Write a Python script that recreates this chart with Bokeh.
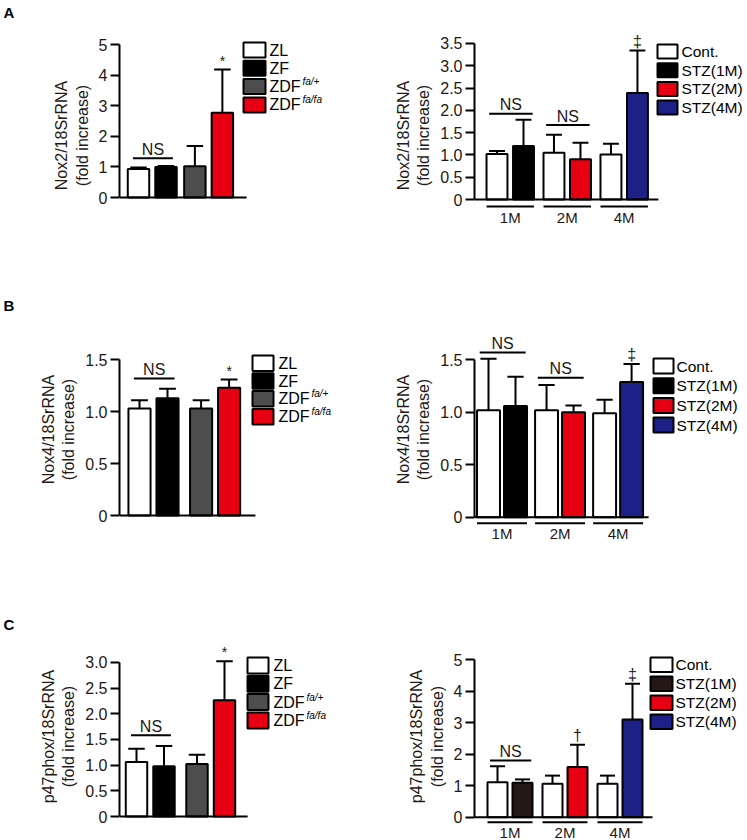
from bokeh.plotting import figure
from bokeh.models import Range1d, Title, FixedTicker
from bokeh.layouts import column, row
from bokeh.embed import file_html
from bokeh.resources import INLINE
from bokeh.core.properties import value

FONT = "Liberation Sans"

# ---------------- data ----------------
zucker_names = ["ZL", "ZF", "ZDF", "ZDF"]
zucker_sups = ["", "", "fa/+", "fa/fa"]
zucker_colors = ["#ffffff", "#000000", "#4d4d4d", "#e60012"]

stz_names = ["Cont.", "STZ(1M)", "STZ(2M)", "STZ(4M)"]
stz_months = ["1M", "2M", "4M"]
stz_colors_ab = ["#ffffff", "#000000", "#e60012", "#1d2087"]
stz_colors_c = ["#ffffff", "#231815", "#e60012", "#1d2087"]

# Nox2
nox2_zucker = [0.93, 1.00, 1.02, 2.77]
nox2_zucker_err = [0.05, 0.03, 0.66, 1.41]
nox2_zucker_ns = 1.28
nox2_zucker_sig = ["", "", "", "*"]
nox2_cont = [1.02, 1.05, 1.01]
nox2_cont_err = [0.07, 0.40, 0.24]
nox2_stz = [1.20, 0.90, 2.39]
nox2_stz_err = [0.59, 0.37, 0.95]
nox2_stz_ns = [1.92, 1.67, None]
nox2_stz_sig = ["", "", "‡"]
nox2_ticks_zucker = [0, 1, 2, 3, 4, 5]
nox2_ticks_stz = [0, 0.5, 1.0, 1.5, 2.0, 2.5, 3.0, 3.5]

# Nox4
nox4_zucker = [1.03, 1.13, 1.03, 1.23]
nox4_zucker_err = [0.08, 0.09, 0.08, 0.08]
nox4_zucker_ns = 1.32
nox4_zucker_sig = ["", "", "", "*"]
nox4_cont = [1.02, 1.02, 0.99]
nox4_cont_err = [0.49, 0.24, 0.13]
nox4_stz = [1.06, 1.00, 1.29]
nox4_stz_err = [0.28, 0.065, 0.17]
nox4_stz_ns = [1.57, 1.33, None]
nox4_stz_sig = ["", "", "‡"]
nox4_ticks = [0, 0.5, 1.0, 1.5]

# p47phox
p47_zucker = [1.06, 0.98, 1.02, 2.26]
p47_zucker_err = [0.26, 0.39, 0.18, 0.76]
p47_zucker_ns = 1.58
p47_zucker_sig = ["", "", "", "*"]
p47_cont = [1.11, 1.06, 1.06]
p47_cont_err = [0.51, 0.26, 0.26]
p47_stz = [1.09, 1.59, 3.10]
p47_stz_err = [0.11, 0.71, 1.14]
p47_stz_ns = [1.80, None, None]
p47_stz_sig = ["", "†", "‡"]
p47_ticks_zucker = [0, 0.5, 1.0, 1.5, 2.0, 2.5, 3.0]
p47_ticks_stz = [0, 1, 2, 3, 4, 5]

LW = 2
# frame edges shared by panels (page pixels)
LEFT_L, LEFT_R = 119, 358
RIGHT_L, RIGHT_R = 474, 747
ROW_A = (0, 260, 20, 250)      # fig top, fig height, frame top, frame bottom
ROW_B = (260, 290, 313, 545)
ROW_C = (550, 290, 632, 840)


def tick_labels(ticks):
    if all(float(t).is_integer() for t in ticks):
        return {t: str(int(t)) for t in ticks}
    return {t: ("0" if t == 0 else f"{t:.1f}") for t in ticks}


def make_fig(side, rowspec, xo, ux, yo, uy, ticks, ylabel, letter=None):
    fy, fh, T, B = rowspec
    if side == "left":
        fx, fw, L, R = 0, 360, LEFT_L, LEFT_R
    else:
        fx, fw, L, R = 360, 387, RIGHT_L, RIGHT_R
    p = figure(width=fw, height=fh,
               x_range=Range1d((L - xo) / ux, (R - xo) / ux),
               y_range=Range1d((yo - B) / uy, (yo - T) / uy),
               min_border_left=L - fx, min_border_right=fx + fw - R,
               min_border_top=T - fy, min_border_bottom=fy + fh - B,
               output_backend="svg", toolbar_location=None,
               x_axis_location=None, tools="")
    if letter:
        p.title = Title(text=letter, align="left", offset=3 - L, standoff=0,
                        text_font=FONT, text_font_size="15px", text_font_style="bold",
                        text_color="black")
    p.grid.visible = False
    p.outline_line_color = None
    p.background_fill_color = "white"
    p.border_fill_color = "white"
    ax = p.yaxis[0]
    ax.ticker = FixedTicker(ticks=ticks)
    ax.major_label_overrides = tick_labels(ticks)
    ax.bounds = (0, ticks[-1])
    ax.axis_line_width = LW
    ax.axis_line_color = "black"
    ax.major_tick_line_width = LW
    ax.major_tick_line_color = "black"
    ax.major_tick_out = 9
    ax.major_tick_in = 0
    ax.minor_tick_line_color = None
    ax.major_label_text_font = FONT
    ax.major_label_text_font_size = "16px"
    ax.major_label_text_color = "#231815"
    ax.major_label_standoff = 3
    ax.axis_label = ylabel + "\n(fold increase)"
    ax.axis_label_text_font = FONT
    ax.axis_label_text_font_size = "16px"
    ax.axis_label_text_font_style = "normal"
    ax.axis_label_text_color = "#231815"
    ax.axis_label_standoff = 5
    X = lambda px: (px - xo) / ux
    Y = lambda py: (yo - py) / uy
    return p, X, Y, (L - xo) / ux


def txt(p, x, y, s, size, align="left", baseline="middle", xoff=0, yoff=0,
        style="normal", color="#231815"):
    p.text(x=[x], y=[y], text=[s], text_font=value(FONT), text_font_size=size,
           text_align=align, text_baseline=baseline, x_offset=xoff, y_offset=yoff,
           text_font_style=style, text_color=color)


def err_bars(p, xs, vals, errs, cap):
    tops = [v + e for v, e in zip(vals, errs)]
    p.segment(x0=xs, y0=vals, x1=xs, y1=tops, line_width=LW, line_color="black")
    p.segment(x0=[x - cap for x in xs], y0=tops, x1=[x + cap for x in xs], y1=tops,
              line_width=LW, line_color="black")
    return tops


def legend(p, X, Y, names, colors, sups, box_left, first_top, bw, bh, step, text_x, size,
           sup_dx=0):
    for i, name in enumerate(names):
        cy = first_top + bh / 2 + i * step
        p.rect(x=[X(box_left + bw / 2)], y=[Y(cy)], width=bw, height=bh,
               width_units="screen", height_units="screen",
               fill_color=colors[i], line_color="black", line_width=LW)
        txt(p, X(text_x), Y(cy), name, size, color="black")
        if sups and sups[i]:
            txt(p, X(text_x), Y(cy), sups[i], "10px", xoff=sup_dx, yoff=-5,
                style="italic", color="black")


def ns_mark(p, x0, x1, lev):
    p.segment(x0=[x0], y0=[lev], x1=[x1], y1=[lev], line_width=LW, line_color="black")
    txt(p, (x0 + x1) / 2, lev, "NS", "16px", align="center", yoff=-9)


def zucker_panel(rowspec, xo, ux, yo, uy, ticks, ylabel, vals, errs, ns_level, sigs,
                 extra_gap, bw, end_pad, leg, letter):
    p, X, Y, x_start = make_fig("left", rowspec, xo, ux, yo, uy, ticks, ylabel, letter)
    pos = [k + (k // 2) * extra_gap for k in range(len(vals))]
    p.vbar(x=pos, top=vals, bottom=0, width=bw, fill_color=zucker_colors,
           line_color="black", line_width=LW)
    tops = err_bars(p, pos, vals, errs, 0.3)
    p.segment(x0=[x_start], y0=[0], x1=[pos[-1] + end_pad], y1=[0],
              line_width=LW, line_color="black")
    ns_mark(p, pos[0] - 0.2, pos[1] + 0.25, ns_level)
    for x, t, s in zip(pos, tops, sigs):
        if s:
            txt(p, x, t, s, "14px", align="center", baseline="bottom", yoff=-1)
    legend(p, X, Y, zucker_names, zucker_colors, zucker_sups, *leg, sup_dx=33)
    return p


def stz_panel(rowspec, xo, ux, yo, uy, ticks, ylabel, cont, cont_err, stz, stz_err,
              ns_levels, sigs, colors, gap, bw, end_pad, gl_px, lab_off, leg):
    p, X, Y, x_start = make_fig("right", rowspec, xo, ux, yo, uy, ticks, ylabel)
    cpos = [g * gap for g in range(len(cont))]
    spos = [g * gap + 1 for g in range(len(stz))]
    p.vbar(x=cpos, top=cont, bottom=0, width=bw, fill_color=colors[0],
           line_color="black", line_width=LW)
    p.vbar(x=spos, top=stz, bottom=0, width=bw, fill_color=colors[1:],
           line_color="black", line_width=LW)
    err_bars(p, cpos, cont, cont_err, 0.3)
    stops = err_bars(p, spos, stz, stz_err, 0.3)
    p.segment(x0=[x_start], y0=[0], x1=[spos[-1] + end_pad], y1=[0],
              line_width=LW, line_color="black")
    for c, s, lev in zip(cpos, spos, ns_levels):
        if lev is not None:
            ns_mark(p, c - bw / 2 + 0.1, s + bw / 2 - 0.05, lev)
    for x, t, s in zip(spos, stops, sigs):
        if s:
            txt(p, x, t, s, "16px", align="center", baseline="bottom", yoff=-1)
    gl_y = -gl_px / uy
    for c, s, m in zip(cpos, spos, stz_months):
        p.segment(x0=[c - bw / 2], y0=[gl_y], x1=[s + bw / 2], y1=[gl_y],
                  line_width=LW, line_color="black")
        txt(p, (c + s) / 2, gl_y, m, "15px", align="center", yoff=lab_off)
    legend(p, X, Y, stz_names, colors, None, *leg)
    return p


pA1 = zucker_panel(ROW_A, 138, 27.5, 197, 30.6,
                   nox2_ticks_zucker, "Nox2/18SrRNA", nox2_zucker, nox2_zucker_err,
                   nox2_zucker_ns, nox2_zucker_sig, 0.05, 0.78, 0.88,
                   (243, 42, 22, 15, 18.3, 269, "16px"), "A")
pA2 = stz_panel(ROW_A, 496.5, 26.5, 199, 44.6,
                nox2_ticks_stz, "Nox2/18SrRNA", nox2_cont, nox2_cont_err, nox2_stz,
                nox2_stz_err, nox2_stz_ns, nox2_stz_sig, stz_colors_ab, 2.15, 0.79, 0.79,
                7, 11, (657, 44, 20, 14, 18.7, 681, "15.5px"))

pB1 = zucker_panel(ROW_B, 139, 28, 515, 103.8,
                   nox4_ticks, "Nox4/18SrRNA", nox4_zucker, nox4_zucker_err,
                   nox4_zucker_ns, nox4_zucker_sig, 0.2, 0.79, 0.94,
                   (252, 355, 21, 15.5, 17.8, 278, "16px"), "B")
pB2 = stz_panel(ROW_B, 488, 27, 516.7, 104.9,
                nox4_ticks, "Nox4/18SrRNA", nox4_cont, nox4_cont_err, nox4_stz,
                nox4_stz_err, nox4_stz_ns, nox4_stz_sig, stz_colors_ab, 2.15, 0.85, 0.63,
                6, 10, (653, 358, 20, 15, 19.7, 676, "15.5px"))

pC1 = zucker_panel(ROW_C, 136, 27.5, 816, 51.4,
                   p47_ticks_zucker, "p47phox/18SrRNA", p47_zucker, p47_zucker_err,
                   p47_zucker_ns, p47_zucker_sig, 0.2, 0.78, 0.84,
                   (247, 657, 21, 16, 18.3, 273, "16px"), "C")
pC2 = stz_panel(ROW_C, 497, 25, 816.7, 31.5,
                p47_ticks_stz, "p47phox/18SrRNA", p47_cont, p47_cont_err, p47_stz,
                p47_stz_err, p47_stz_ns, p47_stz_sig, stz_colors_c, 2.2, 0.8, 0.8,
                5, 10, (650, 657, 22, 14.5, 19, 675, "15.5px"))

layout = column(row(pA1, pA2), row(pB1, pB2), row(pC1, pC2))

open("out.html", "w").write(file_html(layout, INLINE))
